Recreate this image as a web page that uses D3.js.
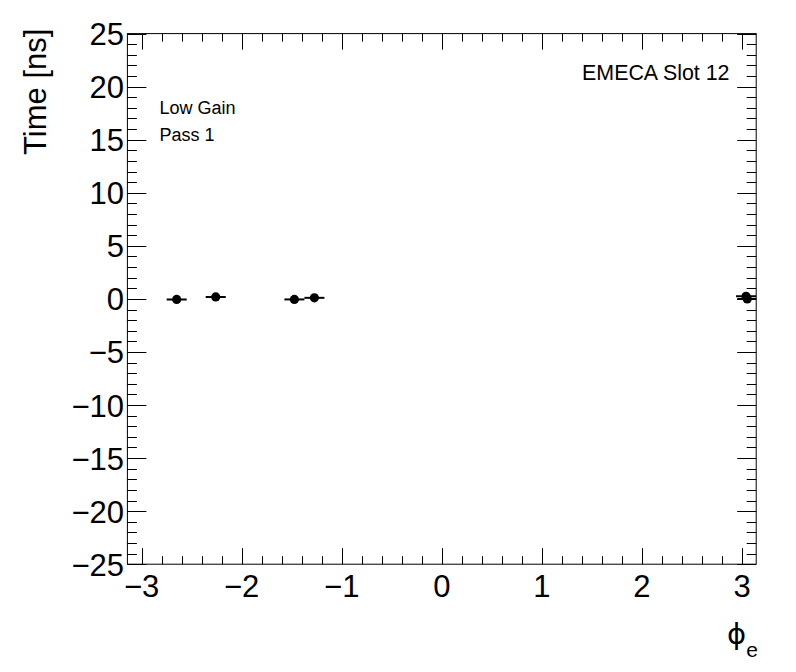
<!DOCTYPE html>
<html>
<head>
<meta charset="utf-8">
<script src="https://cdn.jsdelivr.net/npm/d3@7"></script>
<style>
  body { margin: 0; background: #fff; }
  svg text { font-family: "Liberation Sans", Arial, Helvetica, sans-serif; fill: #000; }
</style>
</head>
<body>
<svg id="plot" width="796" height="672"></svg>
<script>
// phi positions, times and phi half-widths of the points
const phi = [-2.649, -2.259, -1.473, -1.273, 3.040, 3.052];
const time = [-0.05, 0.19, -0.05, 0.10, 0.25, 0.0];
const phiErr = [0.1, 0.1, 0.1, 0.1, 0.1, 0.1];

const xTicks = [-3, -2, -1, 0, 1, 2, 3];
const yTicks = [-25, -20, -15, -10, -5, 0, 5, 10, 15, 20, 25];

const labels = ['Low Gain', 'Pass 1'];
const slotLabel = 'EMECA Slot 12';

const frame = {l: 127.4, r: 756.2, t: 33.6, b: 564.2};

const svg = d3.select('#plot');

const xS = d3.scaleLinear().domain([-Math.PI, Math.PI]).range([frame.l, frame.r]);
const yS = d3.scaleLinear().domain([-25, 25]).range([frame.b, frame.t]);

const fmt = d => (d < 0 ? '\u2212' + Math.abs(d) : '' + d);

// minor ticks
const xMinor = d3.range(-3.2, 3.21, 0.2).map(v => +v.toFixed(1))
  .filter(v => v >= -Math.PI && v <= Math.PI && Math.abs(v - Math.round(v)) > 1e-6);
const yMinor = d3.range(-25, 26, 1).filter(v => v % 5 !== 0);

const g = svg.append('g');

// frame
g.append('rect')
  .attr('x', frame.l).attr('y', frame.t)
  .attr('width', frame.r - frame.l).attr('height', frame.b - frame.t)
  .attr('fill', 'none').attr('stroke', '#000').attr('stroke-width', 1);

const ticks = g.append('g').attr('stroke', '#000').attr('stroke-width', 1);

// x ticks (bottom and top)
const xTick = (v, len) => {
  const x = Math.round(xS(v)) + 0.5;
  ticks.append('line').attr('x1', x).attr('x2', x).attr('y1', frame.b).attr('y2', frame.b - len);
  ticks.append('line').attr('x1', x).attr('x2', x).attr('y1', frame.t).attr('y2', frame.t + len);
};
xTicks.forEach(v => xTick(v, 16));
xMinor.forEach(v => xTick(v, 8));

// y ticks (left and right)
const yTick = (v, len) => {
  const y = Math.round(yS(v)) + 0.5;
  ticks.append('line').attr('x1', frame.l).attr('x2', frame.l + len).attr('y1', y).attr('y2', y);
  ticks.append('line').attr('x1', frame.r).attr('x2', frame.r - len).attr('y1', y).attr('y2', y);
};
yTicks.forEach(v => yTick(v, 19));
yMinor.forEach(v => yTick(v, 9.5));

// tick labels
g.selectAll('.xl').data(xTicks).join('text')
  .attr('class', 'xl')
  .attr('x', d => xS(d))
  .attr('y', 597)
  .attr('text-anchor', 'middle')
  .style('font-size', '31px')
  .text(fmt);

g.selectAll('.yl').data(yTicks).join('text')
  .attr('class', 'yl')
  .attr('x', 124)
  .attr('y', d => yS(d) + 11.5)
  .attr('text-anchor', 'end')
  .style('font-size', '31px')
  .text(fmt);

// axis titles
g.append('text')
  .attr('transform', `translate(46,${frame.t - 5}) rotate(-90)`)
  .attr('text-anchor', 'end')
  .style('font-size', '31px')
  .text('Time [ns]');

const xt = g.append('text')
  .attr('x', 727).attr('y', 644)
  .style('font-size', '29px');
xt.append('tspan').style('font-family', '"DejaVu Sans", sans-serif').text('\u03d5');
xt.append('tspan').attr('dy', 13).style('font-size', '21px').text('e');

// labels
g.selectAll('.lab').data(labels).join('text')
  .attr('class', 'lab')
  .attr('x', 159.5)
  .attr('y', (d, i) => 113.5 + i * 27.5)
  .style('font-size', '18px')
  .text(d => d);

g.append('text')
  .attr('x', 729.5).attr('y', 79.5)
  .attr('text-anchor', 'end')
  .style('font-size', '21.4px')
  .text(slotLabel);

// points with phi error bars
const pts = phi.map((p, i) => ({p, t: time[i], e: phiErr[i]}));

svg.append('clipPath').attr('id', 'fc').append('rect')
  .attr('x', frame.l).attr('y', frame.t)
  .attr('width', frame.r - frame.l).attr('height', frame.b - frame.t);

const dots = svg.append('g').attr('clip-path', 'url(#fc)');

dots.selectAll('.eb').data(pts).join('line')
  .attr('class', 'eb')
  .attr('x1', d => xS(d.p - d.e))
  .attr('x2', d => xS(d.p + d.e))
  .attr('y1', d => yS(d.t))
  .attr('y2', d => yS(d.t))
  .attr('stroke', '#000').attr('stroke-width', 2);

dots.selectAll('.dot').data(pts).join('circle')
  .attr('class', 'dot')
  .attr('cx', d => xS(d.p))
  .attr('cy', d => yS(d.t))
  .attr('r', 4.6)
  .attr('fill', '#000');
</script>
</body>
</html>
